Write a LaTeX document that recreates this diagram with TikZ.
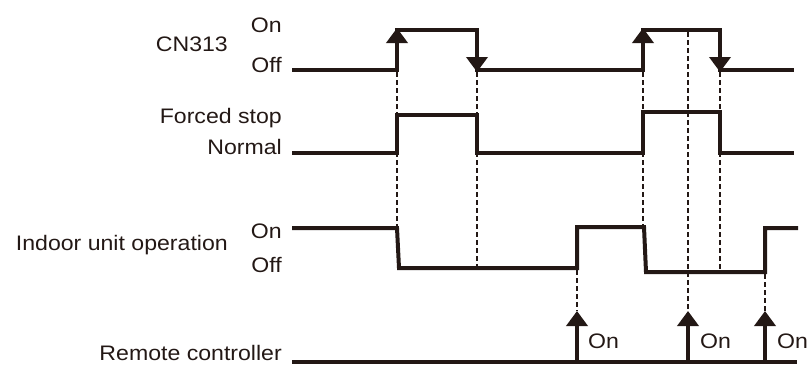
\documentclass[tikz,border=0pt]{standalone}
\usepackage{fontspec}
\setmainfont{Liberation Sans}[FakeStretch=1.1]
\usetikzlibrary{arrows.meta}
\definecolor{ink}{RGB}{35,24,21}
\tikzset{
    signal/.style={draw=ink, line width=4pt, line join=miter},
    guide/.style={draw=ink, line width=1.2pt, dash pattern=on 5pt off 3pt},
    trigger/.style={draw=ink, line width=4pt, -{Triangle[length=15pt, width=21pt]}},
    level/.style={anchor=base east, text=ink, inner sep=0pt,
        font=\fontsize{21}{24}\selectfont},
    onlabel/.style={anchor=base west, text=ink, inner sep=0pt,
        font=\fontsize{21}{24}\selectfont}
}
\begin{document}
\begin{tikzpicture}[x=1pt, y=-1pt]
\useasboundingbox (0,0) rectangle (808,364);

% Signal names and levels
\node[level] (cnname) at (228,51) {CN313};
\node[level] (cnon) at (282,32) {On};
\node[level] (cnoff) at (282,72) {Off};
\node[level] (fsstop) at (282,123) {Forced stop};
\node[level] (fsnormal) at (282,154) {Normal};
\node[level] (iuname) at (228,250) {Indoor unit operation};
\node[level] (iuon) at (282,238) {On};
\node[level] (iuoff) at (282,272) {Off};
\node[level] (rcname) at (282,360) {Remote controller};

% CN313
\draw[signal] (292,70) -- (397,70) -- (397,30) -- (477,30) -- (477,70)
    -- (643,70) -- (643,30) -- (720,30) -- (720,70) -- (794,70);
\draw[trigger] (397,60) -- (397,28);
\draw[trigger] (477,40) -- (477,72);
\draw[trigger] (643,60) -- (643,28);
\draw[trigger] (720,40) -- (720,72);

% Forced stop
\draw[signal] (292,153) -- (397,153) -- (397,115) -- (477,115) -- (477,153)
    -- (643,153) -- (643,112) -- (720,112) -- (720,153) -- (794,153);

% Indoor unit operation
\draw[signal] (292,228) -- (397,228) -- (399,268) -- (577,268) -- (577,227)
    -- (644,227) -- (646,272) -- (765,272) -- (765,228) -- (798,228);

% Remote controller
\draw[signal] (292,361.5) -- (797,361.5);
\draw[trigger] (577,361.5) -- (577,311);
\draw[trigger] (688,361.5) -- (688,311);
\draw[trigger] (765,361.5) -- (765,311);
\node[onlabel] (rcon1) at (588,348) {On};
\node[onlabel] (rcon2) at (700,348) {On};
\node[onlabel] (rcon3) at (777,348) {On};

% Timing guides
\draw[guide] (397,72) -- (397,226);
\draw[guide] (477,72) -- (477,266);
\draw[guide] (643,72) -- (643,225);
\draw[guide] (688,32) -- (688,311);
\draw[guide] (720,72) -- (720,270);
\draw[guide] (577,270) -- (577,311);
\draw[guide] (765,274) -- (765,311);

\end{tikzpicture}
\end{document}
